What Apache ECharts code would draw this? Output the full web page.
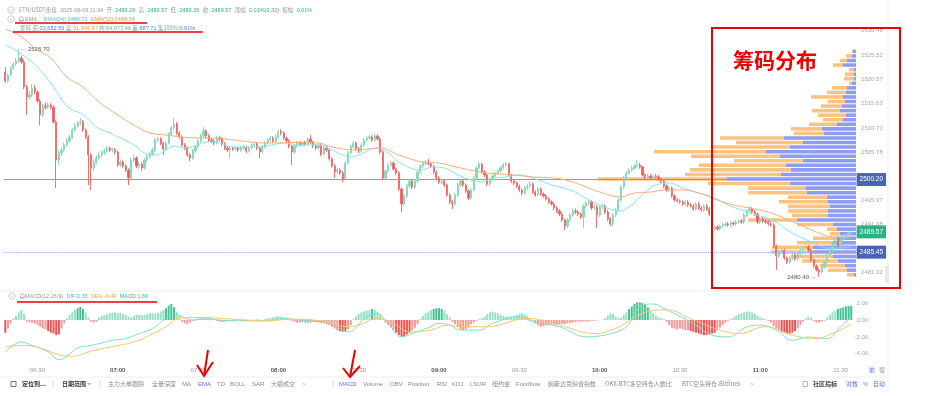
<!DOCTYPE html>
<html>
<head>
<meta charset="utf-8">
<script src="https://cdn.jsdelivr.net/npm/echarts@6/dist/echarts.min.js"></script>
<style>
html,body{margin:0;padding:0;background:#fff;}
#chart{width:933px;height:396px;}
</style>
</head>
<body>
<div id="chart"></div>
<script>
// ================= DATA =================
// one-minute categories 06:18 .. 11:34
const startMinute = 6 * 60 + 18;
const endMinute = 11 * 60 + 34;
const times = [];
for (let m = startMinute; m <= endMinute; m++) {
  times.push(String(Math.floor(m / 60)).padStart(2, '0') + ':' + String(m % 60).padStart(2, '0'));
}

// candles: [open, close, low, high]
const ohlc = [
[2522.05,2520.22,2519.81,2523.06],[2520.22,2521.44,2519.9,2521.8],[2521.44,2522.86,2521.2,2523.2],[2522.86,2523.67,2522.5,2524.1],[2523.67,2524.28,2523.3,2524.9],
[2524.28,2524.89,2523.9,2526.70],[2524.89,2524.08,2523.7,2525.3],[2524.08,2519.00,2518.6,2524.5],[2519.00,2516.97,2513.31,2519.4],[2516.97,2517.37,2516.4,2518.2],
[2517.37,2518.80,2517.0,2519.6],[2518.80,2517.98,2517.5,2519.4],[2517.98,2516.16,2515.8,2518.3],[2516.16,2513.31,2511.28,2516.5],[2513.31,2515.14,2512.9,2515.6],
[2515.14,2514.94,2514.4,2515.8],[2514.94,2515.34,2514.5,2515.9],[2515.34,2514.94,2514.5,2515.7],[2514.94,2511.89,2511.5,2515.3],[2511.89,2504.17,2498.49,2512.2],
[2504.17,2505.59,2503.2,2506.1],[2505.59,2506.20,2505.0,2506.8],[2506.20,2507.22,2505.9,2507.7],[2507.22,2508.03,2506.9,2508.5],[2508.03,2508.85,2507.7,2509.3],
[2508.85,2510.27,2508.5,2510.7],[2510.27,2511.08,2509.9,2511.6],[2511.08,2511.69,2510.7,2512.1],[2511.69,2511.89,2511.2,2512.71],[2511.89,2510.27,2509.9,2512.3],
[2510.27,2508.85,2508.4,2510.6],[2508.85,2505.19,2499.09,2509.2],[2505.19,2502.55,2498.08,2505.5],[2502.55,2503.76,2502.0,2504.3],[2503.76,2504.57,2503.3,2505.1],
[2504.57,2505.19,2504.2,2505.7],[2505.19,2505.59,2504.7,2506.1],[2505.59,2506.00,2505.2,2506.5],[2506.00,2506.61,2505.6,2507.0],[2506.61,2506.20,2505.8,2506.9],
[2506.20,2506.25,2505.7,2506.7],[2506.25,2505.80,2505.3,2506.6],[2505.80,2503.16,2502.8,2506.1],[2503.16,2503.76,2502.7,2504.3],[2503.76,2502.95,2502.5,2504.1],
[2502.95,2502.14,2501.7,2503.3],[2502.14,2500.52,2499.09,2502.5],[2500.52,2504.17,2500.2,2504.6],[2504.17,2504.57,2503.8,2505.3],[2504.57,2502.95,2502.5,2504.9],
[2502.95,2503.36,2502.4,2503.9],[2503.36,2502.55,2502.0,2503.7],[2502.55,2504.17,2502.2,2504.6],[2504.17,2504.78,2503.8,2505.2],[2504.78,2505.39,2504.4,2505.8],
[2505.39,2506.20,2505.0,2506.7],[2506.20,2508.24,2505.9,2508.7],[2508.24,2508.44,2507.8,2508.9],[2508.44,2507.63,2507.2,2508.8],[2507.63,2506.41,2505.2,2507.9],
[2506.41,2507.63,2506.0,2508.0],[2507.63,2509.46,2507.3,2509.8],[2509.46,2510.67,2509.1,2511.1],[2510.67,2511.48,2510.3,2512.71],[2511.48,2509.66,2509.2,2511.9],
[2509.66,2508.85,2508.4,2510.0],[2508.85,2507.22,2506.9,2509.2],[2507.22,2506.61,2506.2,2507.6],[2506.61,2505.19,2504.8,2506.9],[2505.19,2504.57,2503.9,2505.6],
[2504.57,2506.00,2504.2,2506.4],[2506.00,2506.81,2505.6,2507.2],[2506.81,2508.03,2506.5,2508.4],[2508.03,2509.05,2507.7,2509.5],[2509.05,2510.07,2508.7,2510.87],
[2510.07,2509.05,2508.6,2510.4],[2509.05,2508.24,2507.8,2509.4],[2508.24,2508.03,2507.6,2508.7],[2508.03,2507.63,2507.2,2508.4],[2507.63,2508.64,2507.3,2509.1],
[2508.64,2508.44,2508.0,2509.0],[2508.44,2507.42,2507.0,2508.8],[2507.42,2506.61,2506.2,2507.8],[2506.61,2506.20,2505.8,2507.0],[2506.20,2506.61,2504.57,2507.0],
[2506.61,2506.41,2506.0,2506.9],[2506.41,2506.61,2506.1,2506.9],[2506.61,2506.20,2505.8,2506.9],[2506.20,2506.61,2505.9,2507.0],[2506.61,2506.81,2506.3,2507.2],
[2506.81,2506.00,2505.6,2507.1],[2506.00,2506.61,2505.7,2507.0],[2506.61,2507.22,2506.3,2507.6],[2507.22,2507.42,2506.9,2507.9],[2507.42,2506.61,2506.2,2507.7],
[2506.61,2505.80,2504.57,2506.9],[2505.80,2506.81,2505.5,2507.2],[2506.81,2507.63,2506.5,2508.0],[2507.63,2508.24,2507.3,2508.6],[2508.24,2508.64,2507.9,2509.1],
[2508.64,2508.03,2507.7,2509.0],[2508.03,2508.85,2507.7,2509.3],[2508.85,2509.86,2508.5,2510.3],[2509.86,2509.66,2509.2,2510.4],[2509.66,2508.64,2508.3,2510.0],
[2508.64,2508.03,2507.7,2508.9],[2508.03,2507.02,2506.6,2508.4],[2507.02,2505.80,2503.16,2507.3],[2505.80,2507.02,2505.4,2507.4],[2507.02,2507.63,2506.7,2508.0],
[2507.63,2507.22,2506.9,2508.0],[2507.22,2507.63,2506.9,2508.0],[2507.63,2507.42,2507.0,2508.1],[2507.42,2508.44,2507.1,2508.8],[2508.44,2507.83,2507.4,2509.25],
[2507.83,2507.02,2506.6,2508.1],[2507.02,2506.61,2506.2,2507.4],[2506.61,2507.22,2506.3,2507.6],[2507.22,2505.39,2505.0,2507.5],[2505.39,2506.61,2505.1,2507.0],
[2506.61,2506.20,2505.8,2507.2],[2506.20,2504.37,2504.0,2506.5],[2504.37,2502.95,2502.6,2504.7],[2502.95,2501.73,2500.52,2503.3],[2501.73,2502.14,2501.3,2502.6],
[2502.14,2501.53,2501.1,2502.5],[2501.53,2500.31,2499.70,2501.9],[2500.31,2503.56,2500.0,2504.0],[2503.56,2505.59,2503.2,2506.0],[2505.59,2506.81,2505.3,2507.2],
[2506.81,2507.63,2506.5,2508.0],[2507.63,2506.41,2506.0,2507.9],[2506.41,2506.00,2505.6,2506.8],[2506.00,2507.22,2505.7,2507.6],[2507.22,2508.24,2506.9,2508.6],
[2508.24,2508.64,2507.9,2509.0],[2508.64,2508.85,2508.3,2509.2],[2508.85,2508.24,2507.9,2509.2],[2508.24,2509.05,2507.9,2509.46],[2509.05,2508.44,2508.1,2509.4],
[2508.44,2505.80,2505.4,2508.8],[2505.80,2500.52,2500.11,2506.1],[2500.52,2501.94,2500.2,2502.3],[2501.94,2503.16,2501.6,2503.6],[2503.16,2503.56,2502.8,2504.0],
[2503.56,2502.34,2502.0,2503.9],[2502.34,2501.53,2501.1,2502.7],[2501.53,2498.28,2497.9,2501.9],[2498.28,2495.24,2493.61,2498.6],[2495.24,2496.86,2494.8,2497.3],
[2496.86,2498.89,2496.5,2499.3],[2498.89,2499.91,2498.5,2500.3],[2499.91,2498.69,2498.3,2500.3],[2498.69,2499.91,2498.3,2500.3],[2499.91,2501.73,2499.5,2502.1],
[2501.73,2502.95,2501.4,2503.3],[2502.95,2503.56,2502.6,2504.0],[2503.56,2503.76,2503.1,2504.2],[2503.76,2503.36,2503.0,2504.4],[2503.36,2502.95,2502.6,2503.7],
[2502.95,2501.73,2501.3,2503.2],[2501.73,2500.52,2500.1,2502.0],[2500.52,2499.70,2499.3,2500.9],[2499.70,2499.91,2499.3,2500.3],[2499.91,2499.09,2498.7,2500.2],
[2499.09,2497.06,2496.7,2499.4],[2497.06,2495.64,2495.2,2497.4],[2495.64,2495.24,2494.22,2496.0],[2495.24,2497.06,2494.9,2497.5],[2497.06,2499.09,2496.7,2499.5],
[2499.09,2499.91,2498.7,2500.3],[2499.91,2499.09,2498.7,2500.2],[2499.09,2497.87,2497.5,2499.4],[2497.87,2496.45,2496.0,2498.2],[2496.45,2498.08,2496.1,2498.5],
[2498.08,2500.52,2497.8,2500.9],[2500.52,2502.55,2500.2,2502.9],[2502.55,2503.36,2502.2,2503.76],[2503.36,2501.73,2501.4,2503.6],[2501.73,2501.13,2500.7,2502.1],
[2501.13,2499.30,2498.9,2501.4],[2499.30,2500.11,2498.9,2500.5],[2500.11,2500.92,2499.8,2501.3],[2500.92,2501.53,2500.6,2501.9],[2501.53,2501.94,2501.2,2502.3],
[2501.94,2502.55,2501.6,2502.9],[2502.55,2503.16,2502.2,2503.5],[2503.16,2503.36,2502.8,2503.8],[2503.36,2501.13,2500.8,2503.6],[2501.13,2499.91,2499.5,2501.4],
[2499.91,2499.50,2499.1,2500.2],[2499.50,2498.89,2498.5,2499.8],[2498.89,2498.08,2497.7,2499.2],[2498.08,2497.47,2497.0,2498.4],[2497.47,2498.49,2497.1,2498.9],
[2498.49,2498.89,2498.1,2499.3],[2498.89,2499.30,2498.5,2499.7],[2499.30,2497.67,2497.3,2499.6],[2497.67,2497.06,2496.7,2498.0],[2497.06,2498.28,2496.8,2498.7],
[2498.28,2497.27,2496.9,2498.6],[2497.27,2496.86,2496.5,2497.6],[2496.86,2496.25,2495.9,2497.2],[2496.25,2495.64,2495.3,2496.6],[2495.64,2495.24,2494.9,2496.0],
[2495.24,2494.42,2494.0,2495.6],[2494.42,2493.81,2493.4,2494.8],[2493.81,2493.20,2492.8,2494.2],[2493.20,2491.99,2491.6,2493.5],[2491.99,2490.77,2489.96,2492.3],
[2490.77,2491.99,2490.4,2492.4],[2491.99,2493.00,2491.6,2493.4],[2493.00,2493.81,2492.7,2494.2],[2493.81,2493.61,2493.2,2494.3],[2493.61,2493.20,2492.8,2494.0],
[2493.20,2492.59,2492.2,2493.5],[2492.59,2494.83,2490.36,2495.2],[2494.83,2495.44,2494.4,2495.8],[2495.44,2495.64,2495.0,2496.0],[2495.64,2494.42,2494.0,2496.0],
[2494.42,2494.63,2494.0,2495.0],[2494.63,2493.00,2490.36,2495.0],[2493.00,2494.63,2492.6,2495.0],[2494.63,2494.83,2494.2,2495.3],[2494.83,2493.61,2493.2,2495.1],
[2493.61,2492.19,2491.8,2494.0],[2492.19,2491.17,2490.7,2492.5],[2491.17,2493.00,2490.8,2493.4],[2493.00,2494.02,2492.6,2494.4],[2494.02,2496.05,2493.7,2496.4],
[2496.05,2498.69,2495.7,2499.0],[2498.69,2500.52,2498.3,2500.9],[2500.52,2501.53,2500.2,2501.9],[2501.53,2502.14,2501.2,2502.5],[2502.14,2502.55,2501.8,2503.0],
[2502.55,2502.95,2502.2,2503.4],[2502.95,2503.16,2502.6,2504.17],[2503.16,2502.75,2502.4,2503.6],[2502.75,2501.13,2500.8,2503.0],[2501.13,2500.72,2500.3,2501.5],
[2500.72,2500.92,2500.4,2501.3],[2500.92,2500.52,2500.2,2501.3],[2500.52,2500.92,2500.2,2501.3],[2500.92,2500.72,2500.4,2501.3],[2500.72,2500.31,2500.0,2501.1],
[2500.31,2499.91,2499.5,2500.6],[2499.91,2498.89,2498.5,2500.2],[2498.89,2498.08,2497.7,2499.2],[2498.08,2498.49,2497.7,2498.9],[2498.49,2496.86,2496.5,2498.8],
[2496.86,2496.05,2495.7,2497.2],[2496.05,2495.85,2495.5,2496.4],[2495.85,2495.64,2495.3,2496.2],[2495.64,2495.24,2494.9,2496.0],[2495.24,2495.64,2494.9,2496.0],
[2495.64,2495.03,2494.7,2496.0],[2495.03,2494.83,2494.5,2495.4],[2494.83,2494.22,2493.9,2495.2],[2494.22,2495.24,2493.9,2495.6],[2495.24,2494.42,2494.0,2495.6],
[2494.42,2494.02,2493.6,2494.8],[2494.02,2494.83,2493.7,2495.2],[2494.83,2494.22,2493.8,2495.2],[2494.22,2493.20,2492.8,2494.6],[2493.20,2490.16,2489.55,2493.5],
[2490.16,2490.57,2489.8,2490.9],[2490.57,2490.16,2489.8,2490.9],[2490.16,2490.77,2489.8,2491.1],[2490.77,2490.97,2490.4,2491.4],[2490.97,2491.17,2490.6,2491.6],
[2491.17,2490.97,2490.6,2491.6],[2490.97,2491.38,2490.6,2491.8],[2491.38,2491.17,2490.8,2491.7],[2491.17,2491.58,2490.8,2492.0],[2491.58,2491.78,2491.2,2492.2],
[2491.78,2491.58,2491.2,2492.2],[2491.58,2493.00,2491.2,2493.4],[2493.00,2493.81,2492.6,2494.2],[2493.81,2494.22,2493.5,2494.83],[2494.22,2493.61,2493.2,2494.6],
[2493.61,2493.20,2492.8,2494.0],[2493.20,2491.58,2491.2,2493.5],[2491.58,2492.19,2491.2,2492.6],[2492.19,2491.78,2491.4,2492.6],[2491.78,2491.58,2491.2,2492.2],
[2491.58,2491.17,2490.8,2492.0],[2491.17,2490.97,2490.6,2491.6],[2490.97,2486.71,2486.3,2491.3],[2486.71,2484.68,2481.83,2487.0],[2484.68,2485.69,2484.3,2486.1],
[2485.69,2485.89,2485.3,2486.3],[2485.89,2484.27,2483.9,2486.2],[2484.27,2483.46,2483.0,2484.6],[2483.46,2484.27,2483.1,2484.7],[2484.27,2484.88,2483.9,2485.3],
[2484.88,2484.07,2483.7,2485.2],[2484.07,2485.08,2483.7,2485.5],[2485.08,2485.89,2484.7,2486.3],[2485.89,2486.30,2485.5,2486.7],[2486.30,2486.50,2486.0,2486.9],
[2486.50,2485.89,2485.5,2486.9],[2485.89,2483.86,2483.5,2486.2],[2483.86,2482.64,2482.3,2484.2],[2482.64,2481.83,2481.5,2483.0],[2481.83,2481.42,2480.40,2482.2],
[2481.42,2482.44,2481.1,2482.8],[2482.44,2483.46,2482.1,2483.8],[2483.46,2484.88,2483.1,2485.3],[2484.88,2485.89,2484.5,2486.3],[2485.89,2487.11,2485.5,2487.5],
[2487.11,2487.93,2486.7,2488.3],[2487.93,2486.71,2486.3,2488.73],[2486.71,2487.93,2486.3,2488.3],[2487.93,2488.53,2487.6,2488.9],[2488.53,2488.94,2488.2,2489.3],
[2488.94,2489.34,2488.9,2489.6],[2489.26,2489.57,2489.25,2489.57]
];

// EMA readings [time, value]
const ema24 = [['06:18',2527.53],['06:22',2526.41],['06:25',2525.30],['06:28',2524.08],['06:32',2521.84],['06:36',2518.99],['06:40',2515.75],['06:43',2514.33],['06:46',2513.72],['06:49',2512.50],['06:52',2510.87],['06:57',2509.66],['07:01',2508.64],['07:06',2507.22],['07:10',2505.59],['07:14',2505.19],['07:18',2506.20],['07:21',2507.02],['07:25',2506.61],['07:29',2507.02],['07:33',2507.83],['07:38',2507.63],['07:43',2506.81],['07:51',2506.81],['07:56',2507.02],['08:02',2507.63],['08:08',2507.22],['08:15',2507.22],['08:20',2506.20],['08:27',2504.78],['08:30',2505.19],['08:37',2506.61],['08:41',2505.59],['08:45',2503.76],['08:53',2502.14],['08:58',2502.75],['09:02',2502.55],['09:07',2501.13],['09:12',2500.11],['09:16',2499.70],['09:20',2500.52],['09:25',2500.72],['09:30',2501.13],['09:35',2500.52],['09:40',2499.50],['09:45',2498.69],['09:50',2497.88],['09:54',2496.66],['09:59',2495.24],['10:04',2494.22],['10:08',2493.81],['10:11',2494.63],['10:14',2496.05],['10:18',2498.08],['10:21',2499.09],['10:26',2499.50],['10:31',2498.49],['10:37',2497.47],['10:42',2496.66],['10:48',2495.03],['10:54',2493.81],['11:00',2492.80],['11:05',2491.78],['11:10',2489.96],['11:15',2488.53],['11:20',2487.31],['11:25',2486.30],['11:30',2486.30],['11:34',2486.72]];
const ema52 = [['06:18',2530.78],['06:22',2529.77],['06:25',2528.75],['06:30',2526.52],['06:35',2524.89],['06:41',2521.03],['06:47',2519.00],['06:53',2515.95],['07:00',2513.31],['07:06',2511.28],['07:12',2509.66],['07:18',2509.25],['07:24',2508.85],['07:31',2508.64],['07:37',2508.64],['07:43',2508.24],['07:56',2507.63],['08:08',2507.73],['08:15',2507.63],['08:20',2506.81],['08:29',2506.20],['08:38',2506.61],['08:45',2505.19],['08:54',2503.76],['09:00',2503.56],['09:08',2502.55],['09:18',2501.53],['09:28',2501.13],['09:35',2500.72],['09:43',2500.52],['09:51',2499.50],['10:00',2497.67],['10:08',2496.66],['10:13',2497.47],['10:19',2497.67],['10:25',2498.08],['10:31',2498.08],['10:37',2497.47],['10:44',2496.05],['10:50',2495.03],['10:56',2494.42],['11:03',2493.61],['11:09',2492.39],['11:15',2490.97],['11:21',2489.55],['11:27',2488.53],['11:34',2488.34]];

// MACD histogram, one value per minute
const macdHist = [
-1.5,-1.0, -0.4, 0.2,0.5,0.9,1.2,0.7, -0.2,-0.3,-0.3,-0.4,
-0.6,-0.8,-1.0,-1.1,-1.3,-1.5,-1.6,-1.8,-1.7, -1.0,-0.4, 0.2,
0.6,0.9,1.2,1.4,1.55,1.3,0.9, 0.3, -0.2,-0.3,-0.2,
0.3,0.5,0.6,0.7,0.8,0.85,0.9,0.8,0.85,0.7,0.6, 0.4,0.3, 0.5,0.6,0.6,0.55,
0.6,0.7,0.8,0.8,0.75,0.8, 1.0,1.2,1.4,1.7,1.9, 1.5,1.0,0.5, -0.2,-0.4,-0.5,-0.3, -0.1,
0.1,0.2,0.3,0.35,0.3,0.3,0.25,0.1, -0.1,-0.2,-0.25,-0.2,-0.15,-0.1,
-0.1,-0.05,0.05,-0.1,-0.15,-0.1,-0.05,0.05, 0.05,0.1,0.05,-0.05,0.1,0.2,0.25,
0.3,0.4,0.45,0.4,0.3,0.2,0.1, -0.1,-0.2,-0.3,-0.3,-0.25,-0.3,-0.35,-0.3,-0.2,-0.25,-0.3,
-0.35,-0.4,-0.5,-0.6,-0.8, -1.0,-1.2,-1.3,-1.4,-1.3,-1.1, -0.6,
0.1,0.4,0.7,0.9,1.0,1.1,1.2,1.3,1.2,1.0, 0.6,0.2,-0.3,
-0.6,-0.9,-1.2,-1.5,-1.8,-2.0,-1.9,-1.7,-1.5, -1.2,-0.9,-0.5,
0.1,0.5,0.8,1.0,1.2,1.3,1.4,1.4,1.3,1.1, 0.7,0.3,-0.2,-0.5,-0.8,
-1.1,-1.2,-1.1,-0.9,-0.5, -0.3,-0.1,0.1,0.2, 0.4,0.7,0.9,1.0,0.9,0.8,0.6,0.5,
0.4,0.35,0.4,0.5,0.6, 0.7,0.8,0.7,0.5, 0.2,-0.1, -0.4,-0.6,-0.8,-0.7,-0.6,
-0.5,-0.5,-0.55,-0.6,-0.5,-0.45,-0.5,-0.4,-0.35,-0.3,
-0.25,-0.2,-0.2,-0.15,-0.2,-0.15,-0.1,-0.1,-0.05,0, 0.05,0.2,
0.5,0.8,0.7,0.4,0.2, 0.3,0.6,0.9,1.3, 1.6,1.9,2.1,2.1,2.0,1.8, 1.5,1.1,0.8,0.5, 0.3,0.2,0.1,-0.2,
-0.6,-0.9,-1.0,-1.1,-1.0,-1.1,-1.2,-1.2,-1.3, -1.4,-1.5,-1.6,-1.7,-1.8,-1.8,-1.7,-1.6,-1.5,-1.2,
-0.9,-0.6,-0.3,-0.1,0.1, 0.3,0.5,0.7,0.8,0.9,1.0,1.0,0.9,0.7, 0.5,0.3,0.2,0.1,-0.1,-0.3,
-0.7,-1.0,-1.2,-1.4,-1.5,-1.6,-1.6,-1.5,-1.3,-1.0,-0.6, -0.2, 0.2,0.4,0.3,
-0.1,-0.3,-0.3,-0.2,-0.1, 0.3,0.6,0.9,1.1,1.3,1.4,1.5,1.6,1.65,1.69
];
const macdDif = [['06:18',-3.8],['06:24',-2.6],['06:28',-3.0],['06:34',-3.75],['06:38',-4.7],['06:41',-4.3],['06:45',-3.3],['06:50',-3.0],['06:53',-2.8],['06:58',-2.4],['07:03',-2.2],['07:08',-1.6],['07:13',-1.0],['07:18',0.2],['07:21',0.8],['07:24',0.4],['07:28',0.0],['07:33',0.1],['07:43',-0.1],['07:56',-0.1],['08:02',0.2],['08:08',0.0],['08:16',-0.2],['08:20',-0.4],['08:26',-1.4],['08:28',-1.2],['08:33',0.4],['08:37',0.7],['08:41',-0.4],['08:46',-2.0],['08:50',-1.6],['08:57',-0.8],['09:00',-0.4],['09:04',-0.6],['09:08',-1.2],['09:15',-1.2],['09:20',-0.4],['09:30',0.4],['09:35',-0.2],['09:45',-0.8],['09:55',-2.0],['10:03',-1.7],['10:10',-0.8],['10:15',1.6],['10:20',1.9],['10:25',1.2],['10:35',-0.4],['10:42',-1.8],['10:48',-2.0],['10:55',-0.8],['11:00',-0.6],['11:06',-1.2],['11:12',-2.4],['11:18',-2.0],['11:25',-2.2],['11:30',-0.8],['11:34',0.35]];
const macdDea = [['06:18',-3.2],['06:24',-3.0],['06:31',-3.3],['06:38',-4.1],['06:43',-4.3],['06:50',-3.7],['06:57',-3.2],['07:06',-2.6],['07:12',-1.8],['07:18',-0.8],['07:23',0.2],['07:31',0.3],['07:43',0.1],['07:56',-0.1],['08:05',0.1],['08:16',-0.1],['08:26',-0.8],['08:30',-0.6],['08:37',0.2],['08:43',-0.4],['08:49',-1.4],['08:57',-1.2],['09:03',-0.6],['09:08',-0.8],['09:18',-0.8],['09:33',0.2],['09:45',-0.6],['09:58',-1.6],['10:06',-1.0],['10:18',1.0],['10:25',1.2],['10:35',0.0],['10:45',-1.2],['10:52',-1.6],['11:02',-0.8],['11:12',-1.8],['11:20',-2.2],['11:27',-1.6],['11:34',-0.49]];

// chip distribution (price bins low -> high), buy / sell amounts
const chipPrices = ['2480.86','2481.79','2482.71','2483.64','2484.57','2485.49','2486.42','2487.34','2488.27','2489.20','2490.12','2491.05','2491.97','2492.90','2493.83','2494.75','2495.68','2496.60','2497.53','2498.46','2499.38','2500.31','2501.23','2502.16','2503.09','2504.01','2504.94','2505.86','2506.79','2507.72','2508.64','2509.57','2510.49','2511.42','2512.35','2513.27','2514.20','2515.12','2516.05','2516.98','2517.90','2518.83','2519.75','2520.68','2521.61','2522.53','2523.46','2524.38','2525.31','2526.24'];
const chipBuy  = [2,9,11,18,23,43,43,23,18,16, 19,23,59,28,28,26,28,29,49,50, 66,129,75,65,70,53,76,90,66,53, 72,32,34,19,13,10,16,14,11,13, 10,9,4,2,2,2,13,9,4,3];
const chipSell = [7,19,25,36,40,42,41,36,25,10, 10,36,49,36,40,42,49,39,59,58, 82,129,96,101,87,69,89,112,77,67, 64,30,31,28,20,28,28,21,17,32, 19,15,3,10,9,5,10,7,6,1];

const priceTicks = [2481.32, 2486.20, 2491.08, 2495.97, 2500.87, 2505.78, 2510.70, 2515.63, 2520.57, 2525.52, 2530.48];
const macdTicks = [-4, -2, 0, 2];
const pocPrice = 2500.20;
const lastPrice = 2489.57;
const costPrice = 2485.45;

// ================= CHART =================
const FF = '"Liberation Sans", Arial, "Noto Sans CJK SC", sans-serif';
const CJK = '"Noto Sans CJK SC", "Liberation Sans", sans-serif';
const GL = 4, GR = 80.4;
const UP = '#8bd9ba', DOWN = '#ef5858';

function T(x, y, text, fill, opts) {
  return {
    type: 'text', x: x, y: y, z: 100,
    style: Object.assign({ text: text, fill: fill, fontSize: 6, fontFamily: CJK, verticalAlign: 'middle', textVerticalAlign: 'middle' }, opts || {})
  };
}
function R(x, y, text, rich) {
  return { type: 'text', x: x, y: y, z: 100, style: { text: text, rich: rich, verticalAlign: 'middle', textVerticalAlign: 'middle' } };
}
function L(points, stroke, w, extra) {
  return Object.assign({ type: 'polyline', z: 100, shape: { points: points }, style: { stroke: stroke, lineWidth: w, fill: 'none' } }, extra || {});
}
function chevron(cx, cy) {
  return [
    { type: 'circle', z: 100, shape: { cx: cx, cy: cy, r: 3.3 }, style: { fill: 'none', stroke: '#b8b8b8', lineWidth: 0.7 } },
    L([[cx - 1.5, cy - 0.6], [cx, cy + 0.9], [cx + 1.5, cy - 0.6]], '#b8b8b8', 0.7)
  ];
}
function bell(x, y) {
  return [{ type: 'rect', z: 100, shape: { x: x, y: y - 2.2, width: 3.6, height: 4, r: [1.6, 1.6, 0, 0] }, style: { fill: 'none', stroke: '#9a9a9a', lineWidth: 0.7 } },
          L([[x - 0.6, y + 1.8], [x + 4.2, y + 1.8]], '#9a9a9a', 0.7)];
}
function rs(fill, size, fam) { return { fill: fill, color: fill, fontSize: size, fontFamily: fam || FF }; }

const rich1 = { g: rs('#9a9a9a', 5.5, CJK), n: rs('#9a9a9a', 5.5), v: rs('#2bb283', 5.5) };
const rich2 = { g: rs('#9a9a9a', 5.6), c: rs('#3fcfd9', 5.6), o: rs('#f2924a', 5.6) };
const rich3 = { g: rs('#9a9a9a', 5.6, CJK), n: rs('#9a9a9a', 5.6), b: rs('#5b78de', 5.6), o: rs('#f2a030', 5.6) };
const rich4 = { g: rs('#9a9a9a', 5.5), t: rs('#3cc8b0', 5.5), o: rs('#f0a53a', 5.5), m: rs('#2fb887', 5.5) };

const graphics = [].concat(
  chevron(11, 10), chevron(11, 19), bell(19.5, 19), chevron(12, 296), bell(20.5, 296),
  [
    R(19, 10, '{g|ETH/USDT永续} {n|2025-06-09 11:34} {g|开} {v|2489.26} {g|高} {v|2489.57} {g|低} {v|2489.25} {g|收} {v|2489.57} {g|涨幅} {v|0.01%(0.32)} {g|振幅} {v|0.01%}', rich1),
    R(25, 19, '{g|EMA}  {c|EMA(24):2486.72} {o|EMA(52):2488.34}', rich2),
    R(20, 28, '{g|筹码 买:}{b|32,682.59}{g| 卖:}{o|31,994.87}{g| 共:}{n|64,677.46}{g| 差:}{b|687.71}{g| 集100%:}{b|0.91%}', rich3),
    R(25, 296, '{g|MACD(12,26,9)} {t|DIF:0.35} {o|DEA:-0.49} {m|MACD:1.69}', rich4),
    // separators / borders
    L([[0, 291], [888, 291]], '#eeeeee', 1),
    L([[0, 377], [888, 377]], '#eeeeee', 1),
    L([[888, 0], [888, 391]], '#eeeeee', 1),
    { type: 'rect', z: 100, shape: { x: 885, y: 266, width: 4, height: 17 }, style: { fill: '#e8e8e8' } },
    // right bottom corner
    T(869, 370, '前', '#5b78de'),
    T(879, 370, '復', '#9a9a9a'),
    // toolbar
    { type: 'rect', z: 100, shape: { x: 11, y: 381.5, width: 5, height: 5 }, style: { fill: 'none', stroke: '#555', lineWidth: 0.8 } },
    T(22, 384, '定位到...', '#333', { fontWeight: 'bold' }),
    L([[53, 380], [53, 388]], '#dddddd', 1),
    T(62, 384, '日期范围', '#333', { fontWeight: 'bold' }),
    L([[87.5, 383], [89, 384.5], [90.5, 383]], '#555', 0.8),
    L([[100, 380], [100, 388]], '#dddddd', 1),
    T(108, 384, '主力大单跟踪', '#8a8a8a'),
    T(152, 384, '全量深度', '#8a8a8a'),
    T(182, 384, 'MA', '#8a8a8a', { fontFamily: FF }),
    T(198, 384, 'EMA', '#5b78de', { fontFamily: FF }),
    T(217, 384, 'TD', '#8a8a8a', { fontFamily: FF }),
    T(230, 384, 'BOLL', '#8a8a8a', { fontFamily: FF }),
    T(252, 384, 'SAR', '#8a8a8a', { fontFamily: FF }),
    T(271, 384, '大额成交', '#8a8a8a'),
    T(302, 384, '>', '#aaaaaa', { fontFamily: FF }),
    L([[333, 380], [333, 388]], '#dddddd', 1),
    T(339, 384, 'MACD', '#5b78de', { fontFamily: FF }),
    T(363, 384, 'Volume', '#8a8a8a', { fontFamily: FF }),
    T(390, 384, 'OBV', '#8a8a8a', { fontFamily: FF }),
    T(408, 384, 'Position', '#8a8a8a', { fontFamily: FF }),
    T(437, 384, 'RSI', '#8a8a8a', { fontFamily: FF }),
    T(452, 384, 'KDJ', '#8a8a8a', { fontFamily: FF }),
    T(470, 384, 'LSUR', '#8a8a8a', { fontFamily: FF }),
    T(492, 384, '纽约金', '#8a8a8a'),
    T(516, 384, 'Fundflow', '#8a8a8a', { fontFamily: FF }),
    T(548, 384, '纳斯达克综合指数', '#8a8a8a'),
    T(605, 384, 'OKX-BTC多空持仓人数比', '#8a8a8a'),
    T(682, 384, 'BTC空头持仓-Bitfinex', '#8a8a8a'),
    T(750, 384, '>', '#aaaaaa', { fontFamily: FF }),
    { type: 'rect', z: 100, shape: { x: 803, y: 381.5, width: 4.5, height: 5 }, style: { fill: 'none', stroke: '#999', lineWidth: 0.7 } },
    T(813, 384, '社区指标', '#444', { fontWeight: 'bold' }),
    T(846, 384, '对数', '#5b78de'),
    T(863, 384, '%', '#8a8a8a', { fontFamily: FF }),
    T(873, 384, '自动', '#5b78de'),
    // red annotations
    { type: 'rect', z: 110, shape: { x: 712, y: 28, width: 188, height: 260 }, style: { fill: 'none', stroke: '#ee0000', lineWidth: 2 } },
    { type: 'text', x: 733, y: 60, z: 110, style: { text: '筹码分布', fill: '#ee0000', fontSize: 21, fontWeight: 'bold', fontFamily: CJK, verticalAlign: 'middle', textVerticalAlign: 'middle' } },
    L([[15, 23], [147, 23]], '#e80000', 1.6, { z: 110 }),
    L([[13, 32], [203, 32]], '#e80000', 1.6, { z: 110 }),
    L([[17, 302], [157, 302]], '#e80000', 1.6, { z: 110 }),
    L([[208, 350], [204, 376]], '#ee0000', 2, { z: 110 }),
    L([[197, 365], [204, 376], [213, 362]], '#ee0000', 2, { z: 110 }),
    L([[355, 350], [350, 377]], '#ee0000', 2, { z: 110 }),
    L([[343, 368], [350, 377], [360, 366]], '#ee0000', 2, { z: 110 })
  ]
);

const badge = (bg) => ({ backgroundColor: bg, color: '#fff', padding: [3.5, 3, 3, 3], fontSize: 6.5, fontFamily: FF });

const option = {
  animation: false,
  textStyle: { fontFamily: FF },
  grid: [
    { left: GL, right: GR, top: 20, height: 268, outerBoundsMode: 'none' },
    { left: GL, right: GR, top: 288, height: 76, outerBoundsMode: 'none' },
    { left: GL, right: 77, top: 49.1, height: 227.9, outerBoundsMode: 'none' }
  ],
  xAxis: [
    { type: 'category', gridIndex: 0, data: times, boundaryGap: true, axisLine: { show: false }, axisTick: { show: false }, axisLabel: { show: false }, splitLine: { show: false } },
    { type: 'category', gridIndex: 1, data: times, boundaryGap: true, axisLine: { show: false }, axisTick: { show: false }, splitLine: { show: false },
      axisLabel: {
        margin: 3,
        interval: function (i, v) { return v.slice(3) === '00' || v.slice(3) === '30'; },
        formatter: function (v) { return v.slice(3) === '00' ? '{b|' + v + '}' : '{n|' + v + '}'; },
        rich: { b: { fontSize: 6, fontWeight: 'bold', color: '#555', fontFamily: FF }, n: { fontSize: 6, color: '#9a9a9a', fontFamily: FF } }
      } },
    { type: 'value', gridIndex: 2, inverse: true, min: 0, max: 852, show: false }
  ],
  yAxis: [
    { type: 'value', gridIndex: 0, position: 'right', min: 2478.17, max: 2532.61, splitLine: { show: false }, axisLine: { show: false }, axisTick: { show: false },
      axisLabel: { customValues: priceTicks, formatter: function (v) { return v.toFixed(2); }, color: '#a8a8a8', fontSize: 6, margin: 8.5, fontFamily: FF } },
    { type: 'value', gridIndex: 1, position: 'right', min: -5.207, max: 3.787, splitLine: { show: false }, axisLine: { show: false }, axisTick: { show: false },
      axisLabel: { customValues: macdTicks, formatter: function (v) { return v.toFixed(2); }, color: '#a8a8a8', fontSize: 6, margin: 15.5, align: 'right', fontFamily: FF } },
    { type: 'category', gridIndex: 2, data: chipPrices, show: false }
  ],
  series: [
    { name: 'chipBuy', type: 'bar', xAxisIndex: 2, yAxisIndex: 2, data: chipBuy, stack: 'chip', barCategoryGap: '22%', itemStyle: { color: '#8e9cf2' }, z: 1, silent: true },
    { name: 'chipSell', type: 'bar', xAxisIndex: 2, yAxisIndex: 2, data: chipSell, stack: 'chip', barCategoryGap: '22%', itemStyle: { color: '#fbc382' }, z: 1, silent: true },
    { name: 'K', type: 'candlestick', xAxisIndex: 0, yAxisIndex: 0, data: ohlc, barWidth: 1.7, z: 5,
      itemStyle: { color: UP, color0: DOWN, borderColor: UP, borderColor0: '#f27070', borderWidth: 1 },
      markLine: {
        silent: true, symbol: ['none', 'none'], animation: false,
        label: { show: true, position: 'end', distance: 4 },
        data: [
          { yAxis: pocPrice, lineStyle: { color: '#8e97cc', width: 1, type: 'solid' }, label: Object.assign({ formatter: pocPrice.toFixed(2) }, badge('#4b63b5')) },
          { yAxis: lastPrice, lineStyle: { color: 'rgba(0,0,0,0)', width: 1 }, label: Object.assign({ formatter: lastPrice.toFixed(2) }, badge('#29b384')) },
          { yAxis: costPrice, lineStyle: { color: '#9fb0e8', width: 1, type: 'dotted' }, label: Object.assign({ formatter: costPrice.toFixed(2) }, badge('#4b63b5')) }
        ]
      },
      markPoint: {
        symbol: 'circle', symbolSize: 1, silent: true, animation: false,
        itemStyle: { color: 'rgba(0,0,0,0)' },
        label: { color: '#555', fontSize: 6, fontFamily: FF },
        data: [
          { type: 'max', valueDim: 'highest', label: { position: 'right', distance: 1, formatter: function (p) { return '← ' + Number(p.value).toFixed(2); } } },
          { type: 'min', valueDim: 'lowest', label: { position: 'left', distance: 2, formatter: function (p) { return Number(p.value).toFixed(2) + ' →'; } } }
        ]
      } },
    { name: 'EMA24', type: 'line', xAxisIndex: 0, yAxisIndex: 0, data: ema24, smooth: 0.4, showSymbol: false, symbol: 'none', lineStyle: { color: '#7fe6ec', width: 1 }, z: 6, silent: true },
    { name: 'EMA52', type: 'line', xAxisIndex: 0, yAxisIndex: 0, data: ema52, smooth: 0.4, showSymbol: false, symbol: 'none', lineStyle: { color: '#f5ad7e', width: 1 }, z: 6, silent: true },
    { name: 'MACD', type: 'bar', xAxisIndex: 1, yAxisIndex: 1, data: macdHist, barWidth: '75%', silent: true,
      itemStyle: { color: function (p) {
        const v = p.value;
        if (v >= 0) return Math.abs(v) >= 1.3 ? '#45c293' : '#98e0c4';
        return Math.abs(v) >= 1.3 ? '#ea5555' : '#f39a9a';
      } } },
    { name: 'DIF', type: 'line', xAxisIndex: 1, yAxisIndex: 1, data: macdDif, smooth: 0.4, showSymbol: false, symbol: 'none', lineStyle: { color: '#7ddfcc', width: 1 }, z: 4, silent: true },
    { name: 'DEA', type: 'line', xAxisIndex: 1, yAxisIndex: 1, data: macdDea, smooth: 0.4, showSymbol: false, symbol: 'none', lineStyle: { color: '#f6c868', width: 1 }, z: 4, silent: true }
  ],
  graphic: graphics
};

const chart = echarts.init(document.getElementById('chart'), null, { renderer: 'canvas' });
chart.setOption(option);
</script>
</body>
</html>
